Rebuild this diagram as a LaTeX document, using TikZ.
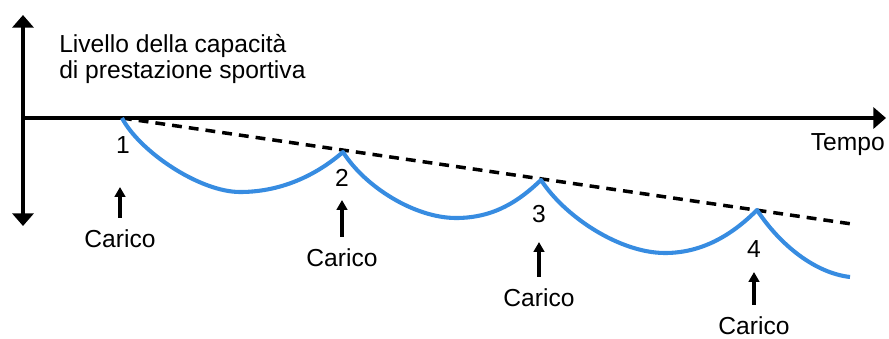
\documentclass[tikz,border=0pt]{standalone}
\usepackage{fontspec}
\setmainfont{Liberation Sans}
\usepackage{tikz}
\usetikzlibrary{arrows.meta}

\definecolor{curveblue}{RGB}{55,140,225}

\begin{document}
\begin{tikzpicture}[
        x=0.025cm, y=-0.025cm,
        axis/.style={line width=3.2pt},
        bigtip/.style={-{Triangle[width=15pt,length=9pt]}},
        trend/.style={line width=2.5pt, dash pattern=on 7pt off 5pt},
        perf/.style={line width=2.9pt, curveblue, line join=round},
        load/.style={line width=2.4pt, -{Triangle[width=7.5pt,length=7pt]}, shorten <=8pt},
        lbl/.style={font=\fontsize{17.5}{18.5}\selectfont, inner sep=0pt}
    ]
    \useasboundingbox (0,0) rectangle (889,338);

    % AXES
    \coordinate (ytop) at (23,15);
    \coordinate (ybot) at (23,226);
    \coordinate (xstart) at (23,118);
    \coordinate (xtip) at (886,118);
    \draw[axis, {Triangle[width=15pt,length=9pt]}-{Triangle[width=15pt,length=9pt]}] (ytop) -- (ybot);
    \draw[axis, bigtip] (xstart) -- (xtip);

    \node[lbl, align=left, anchor=north west] (ylbl) at (59,34)
        {Livello della capacità\\di prestazione sportiva};
    \node[lbl, anchor=base east] (xlbl) at (885,150) {Tempo};

    % PEAKS AND TROUGHS
    \coordinate (p1) at (122,118);
    \coordinate (m1) at (240,192);
    \coordinate (p2) at (343,152);
    \coordinate (m2) at (456,218);
    \coordinate (p3) at (541,180);
    \coordinate (m3) at (665,253);
    \coordinate (p4) at (757,210);
    \coordinate (e) at (850,277);
    \coordinate (dend) at (852,224);

    \draw[trend] (p1) -- (dend);

    \draw[perf] (p1) .. controls (140,152) and (200,192) .. (m1)
        .. controls (285,192) and (320,172) .. (p2)
        .. controls (365,187) and (415,218) .. (m2)
        .. controls (495,218) and (520,200) .. (p3)
        .. controls (565,217) and (620,253) .. (m3)
        .. controls (705,253) and (735,232) .. (p4)
        .. controls (780,245) and (815,273) .. (e);

    % NUMBERS
    \node[lbl, anchor=base] (n1) at (123,153) {1};
    \node[lbl, anchor=base] (n2) at (342,186) {2};
    \node[lbl, anchor=base] (n3) at (539,222) {3};
    \node[lbl, anchor=base] (n4) at (754,257) {4};

    % LOADS
    \node[lbl, anchor=base] (load1) at (120,247) {Carico};
    \node[lbl, anchor=base] (load2) at (342,266) {Carico};
    \node[lbl, anchor=base] (load3) at (539,306) {Carico};
    \node[lbl, anchor=base] (load4) at (754,334) {Carico};

    \coordinate (t1) at (120,187);
    \coordinate (t2) at (342,200);
    \coordinate (t3) at (539,242);
    \coordinate (t4) at (754,272);

    \draw[load] (load1.north) -- (t1);
    \draw[load] (load2.north) -- (t2);
    \draw[load] (load3.north) -- (t3);
    \draw[load] (load4.north) -- (t4);

\end{tikzpicture}
\end{document}
